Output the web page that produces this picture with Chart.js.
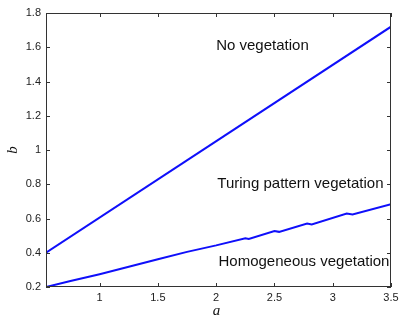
<!DOCTYPE html>
<html>
<head>
<meta charset="utf-8">
<script src="https://cdn.jsdelivr.net/npm/chart.js@4.4.0/dist/chart.umd.min.js"></script>
<style>
  html, body { margin: 0; padding: 0; background: #fff; }
  #wrap { width: 405px; height: 325px; }
</style>
</head>
<body>
<div id="wrap"><canvas id="myChart" width="405" height="325"></canvas></div>
<script>
// boundary between no vegetation and Turing patterns
const upperA = [0.54, 3.5];
const upperB = [0.4, 1.72];

// boundary between Turing patterns and homogeneous vegetation
const lowerA = [0.54, 0.75, 1.0, 1.25, 1.5, 1.75, 2.0, 2.25, 2.28, 2.5, 2.54, 2.78, 2.82, 3.12, 3.17, 3.5];
const lowerB = [0.2, 0.235, 0.275, 0.318, 0.362, 0.405, 0.443, 0.485, 0.480, 0.527, 0.522, 0.571, 0.565, 0.629, 0.623, 0.684];

const xTicks = [1, 1.5, 2, 2.5, 3, 3.5];
const yTicks = [0.2, 0.4, 0.6, 0.8, 1, 1.2, 1.4, 1.6, 1.8];

const regionLabels = ['No vegetation', 'Turing pattern vegetation', 'Homogeneous vegetation'];
const regionA = [2.0, 2.01, 2.02];
const regionB = [1.609, 0.802, 0.345];

const toPoints = (xs, ys) => xs.map((x, i) => ({x: x, y: ys[i]}));

const axisColor = '#333';

const boxPlugin = {
    id: 'box',
    afterDraw(chart) {
        const ctx = chart.ctx;
        const area = chart.chartArea;
        const xs = chart.scales.x;
        const ys = chart.scales.y;
        ctx.save();
        ctx.strokeStyle = axisColor;
        ctx.lineWidth = 1;
        ctx.strokeRect(area.left + 0.5, area.top + 0.5, area.right - area.left - 1, area.bottom - area.top - 1);
        // inward ticks on all four sides
        ctx.beginPath();
        xTicks.forEach(v => {
            const px = Math.round(xs.getPixelForValue(v)) + 0.5;
            ctx.moveTo(px, area.bottom); ctx.lineTo(px, area.bottom - 4);
            ctx.moveTo(px, area.top); ctx.lineTo(px, area.top + 4);
        });
        yTicks.forEach(v => {
            const py = Math.round(ys.getPixelForValue(v)) + 0.5;
            ctx.moveTo(area.left, py); ctx.lineTo(area.left + 4, py);
            ctx.moveTo(area.right, py); ctx.lineTo(area.right - 4, py);
        });
        ctx.stroke();

        // region names
        ctx.fillStyle = '#111';
        ctx.font = '15px "Liberation Sans", Arial, sans-serif';
        ctx.textAlign = 'left';
        ctx.textBaseline = 'middle';
        regionLabels.forEach((t, i) => {
            ctx.fillText(t, xs.getPixelForValue(regionA[i]), ys.getPixelForValue(regionB[i]));
        });

        // axis names
        ctx.font = 'italic 15px "Liberation Serif", "DejaVu Serif", serif';
        ctx.textAlign = 'center';
        ctx.fillText('a', (area.left + area.right) / 2 - 2, 311);
        ctx.translate(13, (area.top + area.bottom) / 2);
        ctx.rotate(-Math.PI / 2);
        ctx.fillText('b', 0, 0);
        ctx.restore();
    }
};

const config = {
    type: 'line',
    data: {
        datasets: [
            {
                label: 'upper',
                data: toPoints(upperA, upperB),
                borderColor: 'rgb(15,15,250)',
                borderWidth: 2,
                pointRadius: 0,
                fill: false
            },
            {
                label: 'lower',
                data: toPoints(lowerA, lowerB),
                borderColor: 'rgb(15,15,250)',
                borderWidth: 2,
                pointRadius: 0,
                fill: false
            }
        ]
    },
    options: {
        responsive: false,
        animation: false,
        layout: { padding: { left: 0, right: 14, top: 13, bottom: 0 } },
        plugins: { legend: { display: false }, tooltip: { enabled: false } },
        scales: {
            x: {
                type: 'linear',
                min: 0.54,
                max: 3.5,
                afterBuildTicks: s => { s.ticks = xTicks.map(v => ({value: v})); },
                afterFit: s => { s.height = 38; },
                grid: { display: false, drawTicks: false },
                border: { display: false },
                ticks: {
                    color: '#222',
                    font: { family: '"Liberation Sans", Arial, sans-serif', size: 11 },
                    padding: 4,
                    maxRotation: 0,
                    callback: v => String(v)
                }
            },
            y: {
                type: 'linear',
                min: 0.2,
                max: 1.8,
                afterBuildTicks: s => { s.ticks = yTicks.map(v => ({value: v})); },
                afterFit: s => { s.width = 46; },
                grid: { display: false, drawTicks: false },
                border: { display: false },
                ticks: {
                    color: '#222',
                    font: { family: '"Liberation Sans", Arial, sans-serif', size: 11 },
                    padding: 5,
                    callback: v => String(v)
                }
            }
        }
    },
    plugins: [boxPlugin]
};

const myChart = new Chart(document.getElementById('myChart'), config);
</script>
</body>
</html>
